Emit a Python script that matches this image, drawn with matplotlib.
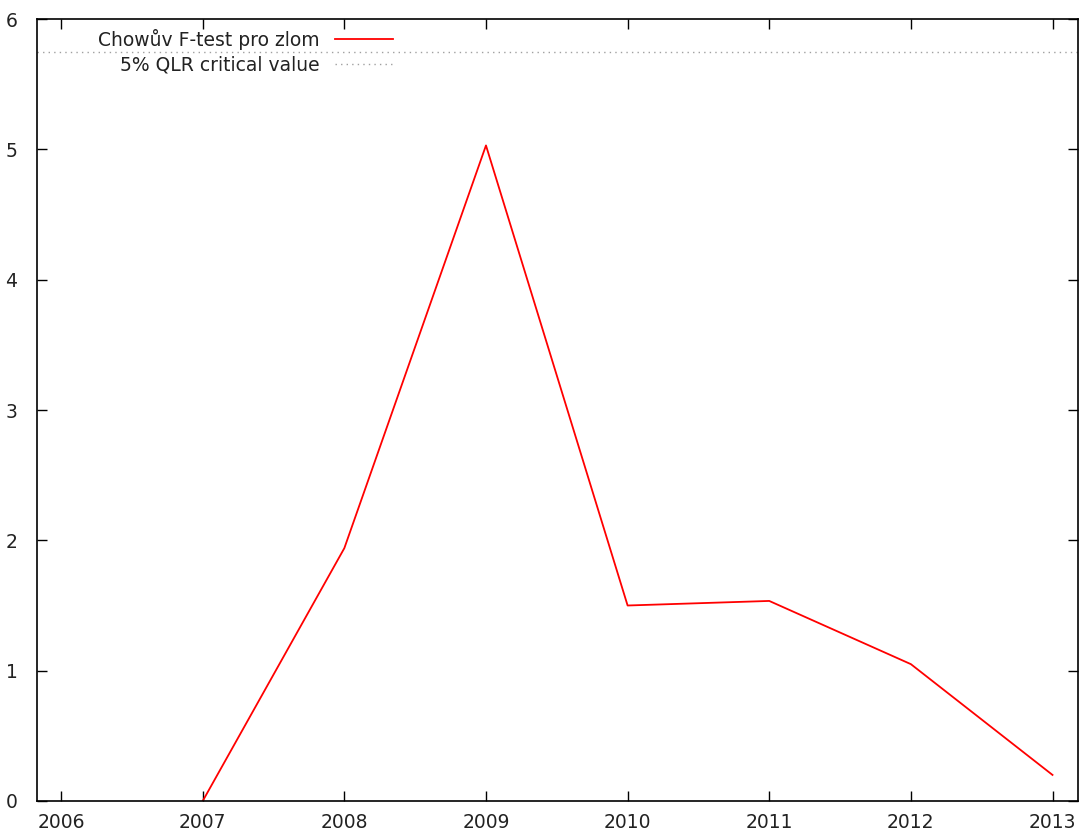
import numpy as np
import matplotlib.pyplot as plt

years = [2007, 2008, 2009, 2010, 2011, 2012, 2013]
f_test = [0.0, 1.94, 5.03, 1.50, 1.535, 1.05, 0.20]
qlr_crit = 5.75
xticks = [2006, 2007, 2008, 2009, 2010, 2011, 2012, 2013]

plt.rcParams['font.family'] = ['DejaVu Sans']
fig = plt.figure(figsize=(10.83, 8.33), dpi=100)
ax = fig.add_axes([37 / 1083, 32 / 833, 1041 / 1083, 782 / 833])

ax.plot(years, f_test, color='#ff0000', lw=1.3, label='Chowův F-test pro zlom')
ax.axhline(qlr_crit, color='#a0a0a0', lw=1.0, ls=(0, (1, 3)), label='5% QLR critical value')

ax.set_xlim(2005.83, 2013.18)
ax.set_ylim(0, 6)
ax.set_xticks(xticks)
ax.set_yticks(range(0, 7))
ax.tick_params(direction='in', top=True, right=True, length=7, width=1,
               labelsize=13.5, colors='black', labelcolor='#222222')
ax.tick_params(axis='x', pad=9)
ax.tick_params(axis='y', pad=14)
for s in ax.spines.values():
    s.set_linewidth(1.2)

leg = ax.legend(loc='upper right', markerfirst=False, frameon=False, fontsize=13.5,
                handlelength=3.1, handletextpad=0.8, borderaxespad=0, borderpad=0,
                labelspacing=0.3, bbox_to_anchor=((393 - 37) / 1041, 1 - 10 / 782))
for t in leg.get_texts():
    t.set_ha('right')
    t.set_color('#222222')
leg._legend_box.align = 'right'

fig.savefig('out.png', dpi=100)
